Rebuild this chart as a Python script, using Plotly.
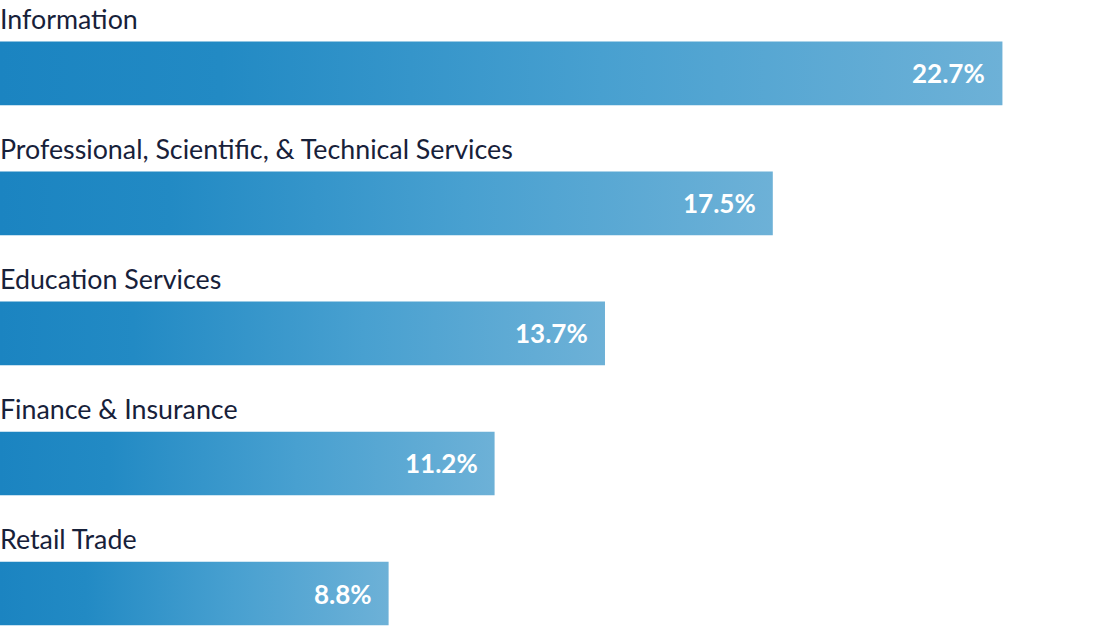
import plotly.graph_objects as go

# industries and share of total (%)
industries = [
    "Information",
    "Professional, Scientific, & Technical Services",
    "Education Services",
    "Finance & Insurance",
    "Retail Trade",
]
shares = [22.7, 17.5, 13.7, 11.2, 8.8]
share_labels = ["22.7%", "17.5%", "13.7%", "11.2%", "8.8%"]

bar_half = 0.245
grad = [[0, "#1b84c1"], [0.22, "#228ac4"], [0.6, "#48a0d0"], [1, "#6db1d7"]]

fig = go.Figure()
for i, (name, val) in enumerate(zip(industries, shares)):
    # each bar is a filled box so it can carry a left-to-right gradient
    fig.add_trace(go.Scatter(
        x=[0, val, val, 0, 0],
        y=[i - bar_half, i - bar_half, i + bar_half, i + bar_half, i - bar_half],
        mode="lines",
        line=dict(width=0),
        fill="toself",
        fillgradient=dict(type="horizontal", colorscale=grad),
        hoverinfo="skip",
        showlegend=False,
    ))
    fig.add_annotation(x=0, xref="paper", y=i - 0.42, yref="y",
                       text=name, showarrow=False, xanchor="left", yanchor="middle",
                       xshift=-2,
                       font=dict(family="Lato", size=26.8, color="#17213a"))
    fig.add_annotation(x=val, y=i, text=share_labels[i], showarrow=False,
                       xanchor="right", yanchor="middle", xshift=-15,
                       font=dict(family="Lato", size=26, color="white", weight="bold"))

fig.update_layout(
    width=1104, height=626,
    margin=dict(l=0, r=0, t=0, b=0),
    plot_bgcolor="white", paper_bgcolor="white",
    xaxis=dict(range=[0, 25], visible=False, fixedrange=True),
    yaxis=dict(range=[4.25, -0.565], visible=False, fixedrange=True),
)
fig.write_html("out.html", config={"displayModeBar": False},
               post_script="document.body.style.margin='0';")
